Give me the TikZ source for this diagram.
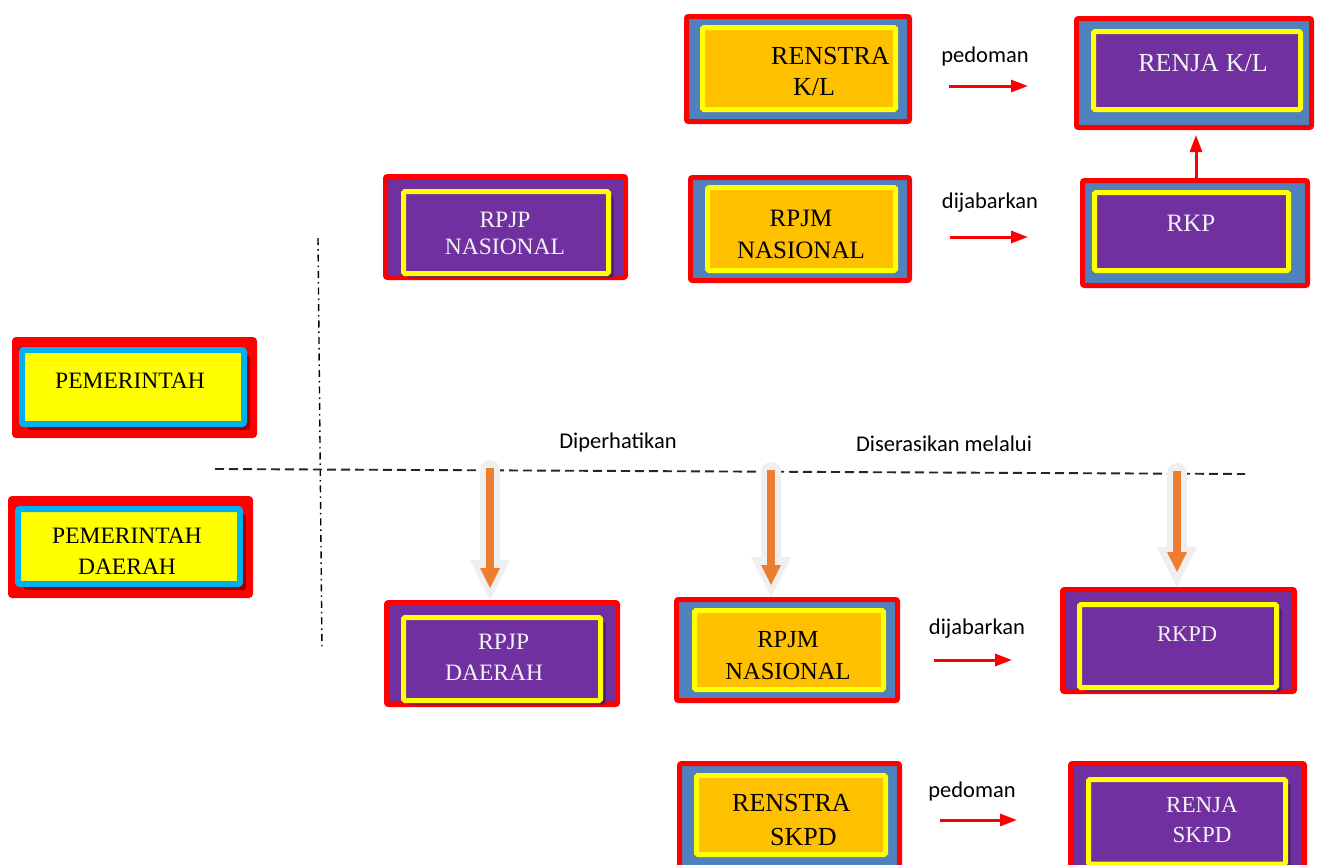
\documentclass[tikz,border=0pt]{standalone}
\usepackage{fontspec}
\setmainfont{Liberation Serif}
\newfontfamily\labelfont{Carlito}
\usetikzlibrary{fit,shadows,arrows.meta}
\definecolor{bred}{HTML}{FF0000}
\definecolor{bblue}{HTML}{4F81BD}
\definecolor{bpurple}{HTML}{7030A0}
\definecolor{bpurpled}{HTML}{4E2170}
\definecolor{borange}{HTML}{FFC000}
\definecolor{byellow}{HTML}{FFFF00}
\definecolor{bcyan}{HTML}{00B0F0}
\definecolor{bdred}{HTML}{990000}
\definecolor{aorange}{HTML}{ED7D31}
\definecolor{aglow}{HTML}{EFEFEF}
\definecolor{ptext}{HTML}{F4F4F4}
\tikzset{
  outerbox/.style={draw=bred, line width=5pt, rounded corners=2pt, inner sep=0pt},
  innerbox/.style={draw=byellow, line width=5pt, rounded corners=1.5pt, inner sep=0pt},
  cyanbox/.style={draw=bcyan, line width=6pt, rounded corners=2pt, inner sep=0pt, fill=byellow,
     drop shadow={shadow xshift=6pt, shadow yshift=-6pt, fill=bdred, opacity=1}},
  pshadow/.style={drop shadow={shadow xshift=5pt, shadow yshift=-4pt, fill=bpurpled, opacity=1}},
  btext/.style={align=center, inner sep=0pt},
  wtext/.style={btext, text=ptext},
  oneline/.style={text height=16pt, text depth=0pt},
  lbl/.style={font=\labelfont\fontsize{22.5}{26}\selectfont, anchor=base, inner sep=0pt},
  redarrow/.style={draw=bred, line width=3pt, -{Triangle[width=12pt,length=17pt]}},
  glow/.style={draw=aglow, line width=20pt, line cap=round, -{Triangle[width=40pt,length=40pt,line width=0pt]}},
  oarrow/.style={draw=aorange, line width=8pt, -{Triangle[width=20pt,length=20pt,line width=0pt]}},
  dashdot/.style={draw=black, line width=1.4pt, dash pattern=on 7pt off 4pt on 1.5pt off 4pt},
  hdash/.style={draw=black!85, line width=1.9pt, dash pattern=on 9pt off 5pt},
}
\begin{document}
\begin{tikzpicture}[x=1pt,y=-1pt]
\useasboundingbox (0,0) rectangle (1318,865);
\clip (0,0) rectangle (1318,865);
\fill[white] (0,0) rectangle (1318,865);

% ---- upper row boxes
\node[outerbox, fill=bblue, fit={(686.5,16.5)(909.5,121.5)}] (renstraKLo) {};
\node[innerbox, fill=borange, fit={(702.5,27.5)(895.5,109.5)}] (renstraKL) {};
\node[btext, font=\fontsize{26}{31}\selectfont, align=left, anchor=west] (renstraKLt) at (771,72) {RENSTRA\\\hspace*{22pt}K/L};

\node[outerbox, fill=bblue, fit={(1076.5,18.5)(1311.5,127.5)}] (renjaKLo) {};
\node[innerbox, fill=bpurple, fit={(1093.5,31.5)(1300.5,109.5)}] (renjaKL) {};
\node[wtext, oneline, font=\fontsize{26}{31}\selectfont] (renjaKLt) at (1203,63) {RENJA K/L};

\node[outerbox, fill=bblue, fit={(1082.5,180.5)(1307.5,285.5)}] (rkpo) {};
\node[innerbox, fill=bpurple, fit={(1094.5,192.5)(1288.5,270.5)}] (rkp) {};
\node[wtext, oneline, font=\fontsize{25}{31}\selectfont] (rkpt) at (1191,223) {RKP};

\node[outerbox, fill=bpurple, fit={(385.5,176.5)(625.5,277.5)}] (rpjpNo) {};
\node[innerbox, fill=bpurple, pshadow, fit={(403.5,191.5)(608.5,273.5)}] (rpjpN) {};
\node[wtext, font=\fontsize{23.5}{27}\selectfont] (rpjpNt) at (505,233.5) {RPJP\\NASIONAL};

\node[outerbox, fill=bblue, fit={(690.5,177.5)(909.5,280.5)}] (rpjmNo) {};
\node[innerbox, fill=borange, fit={(707.5,187.5)(895.5,270.5)}] (rpjmN) {};
\node[btext, font=\fontsize{25}{32}\selectfont] (rpjmNt) at (801,234) {RPJM\\NASIONAL};

% ---- left boxes
\node[outerbox, fill=bred, fit={(14.5,339.5)(254.5,435.5)}] (pemo) {};
\node[cyanbox, fit={(22,350)(244,424)}] (pem) {};
\node[btext, oneline, font=\fontsize{23.5}{31}\selectfont] (pemt) at (130,380) {PEMERINTAH};

\node[outerbox, fill=bred, fit={(10.5,498.5)(250.5,595.5)}] (pemDo) {};
\node[cyanbox, fit={(18,509)(240,584)}] (pemD) {};
\node[btext, font=\fontsize{23.5}{31}\selectfont] (pemDt) at (127,551.5) {PEMERINTAH\\DAERAH};

% ---- lower row boxes
\node[outerbox, fill=bpurple, fit={(386.5,602.5)(617.5,704.5)}] (rpjpDo) {};
\node[innerbox, fill=bpurple, pshadow, fit={(403.5,617.5)(600.5,700.5)}] (rpjpD) {};
\node[wtext, font=\fontsize{23.5}{31}\selectfont, align=left, anchor=west] (rpjpDt) at (445,657.5) {\hspace*{33pt}RPJP\\DAERAH};

\node[outerbox, fill=bblue, fit={(676.5,599.5)(897.5,700.5)}] (rpjmN2o) {};
\node[innerbox, fill=borange, fit={(694.5,610.5)(883.5,689.5)}] (rpjmN2) {};
\node[btext, font=\fontsize{24.5}{32}\selectfont] (rpjmN2t) at (788,656) {RPJM\\NASIONAL};

\node[outerbox, fill=bpurple, fit={(1062.5,589.5)(1294.5,691.5)}] (rkpdo) {};
\node[innerbox, fill=bpurple, pshadow, fit={(1079.5,604.5)(1276.5,687.5)}] (rkpd) {};
\node[wtext, oneline, font=\fontsize{22.5}{31}\selectfont] (rkpdt) at (1187,633) {RKPD};

\node[outerbox, fill=bblue, fit={(679.5,763.5)(899.5,880)}] (renstraSo) {};
\node[innerbox, fill=borange, fit={(696.5,775.5)(885.5,854.5)}] (renstraS) {};
\node[btext, font=\fontsize{26}{34}\selectfont, align=left, anchor=west] (renstraSt) at (732,820) {RENSTRA\\\hspace*{38pt}SKPD};

\node[outerbox, fill=bpurple, fit={(1070.5,763.5)(1304.5,880)}] (renjaSo) {};
\node[innerbox, fill=bpurple, pshadow, fit={(1088.5,779.5)(1285.5,864)}] (renjaS) {};
\node[wtext, font=\fontsize{23}{30}\selectfont] (renjaSt) at (1202,820) {RENJA\\SKPD};

% ---- dividing lines
\coordinate (vtop) at (318,238);
\coordinate (vbot) at (322,650);
\draw[dashdot] (vtop) -- (vbot);
\coordinate (hl) at (215,469);
\coordinate (hr) at (1245,474);
\draw[hdash] (hl) -- (hr);

% ---- labels
\node[lbl] (lpedoman1) at (985,62) {pedoman};
\node[lbl] (ldijabar1) at (990,208) {dijabarkan};
\node[lbl] (ldiper) at (618,448) {Diperhatikan};
\node[lbl] (ldiseras) at (944,451) {Diserasikan melalui};
\node[lbl] (ldijabar2) at (977,634) {dijabarkan};
\node[lbl] (lpedoman2) at (972,797) {pedoman};

% ---- red arrows
\coordinate (a1s) at (949,86);  \coordinate (a1e) at (1028,86);
\coordinate (a2s) at (950,237); \coordinate (a2e) at (1028,237);
\coordinate (a3s) at (934,660); \coordinate (a3e) at (1012,660);
\coordinate (a4s) at (940,820); \coordinate (a4e) at (1017,820);
\draw[redarrow] (a1s) -- (a1e);
\draw[redarrow] (a2s) -- (a2e);
\draw[redarrow] (a3s) -- (a3e);
\draw[redarrow] (a4s) -- (a4e);
\coordinate (kup) at (1196,180);
\draw[redarrow, shorten >=5pt] (kup) -- (kup |- renjaKLo.south);

% ---- orange arrows
\coordinate (g1) at (490,470); \coordinate (o1) at (490,468);
\coordinate (g2) at (771,472); \coordinate (o2) at (771,470);
\coordinate (g3) at (1177,473); \coordinate (o3) at (1177,471);
\draw[glow] (g1) -- (g1 |- rpjpDo.north);
\draw[glow] (g2) -- (g2 |- rpjmN2o.north);
\draw[glow] (g3) -- (g3 |- rkpdo.north);
\draw[oarrow, shorten >=12pt] (o1) -- (o1 |- rpjpDo.north);
\draw[oarrow, shorten >=12pt] (o2) -- (o2 |- rpjmN2o.north);
\draw[oarrow, shorten >=15pt] (o3) -- (o3 |- rkpdo.north);
\end{tikzpicture}
\end{document}
